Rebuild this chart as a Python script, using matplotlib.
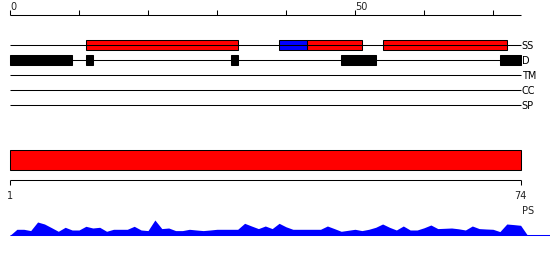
import matplotlib
matplotlib.use('Agg')
import matplotlib.pyplot as plt
from matplotlib.patches import Rectangle

# ---- data ----
seq_len = 74
ruler_ticks = [0, 10, 20, 30, 40, 50, 60, 70]
ruler_labels = {0: '0', 50: '50'}
track_names = ['SS', 'D', 'TM', 'CC', 'SP']
ss_start = [11, 39, 43, 54]
ss_end = [33, 43, 51, 72]
ss_color = ['#ff0000', '#0000ff', '#ff0000', '#ff0000']
d_start = [0, 11, 32, 48, 71]
d_end = [9, 12, 33, 53, 74]
domain_start = [0]
domain_end = [74]
domain_ruler_labels = ['1', '74']
ps_label = 'PS'
ps_values = [6, 6, 4.7, 13.3, 11.3, 7.7, 4, 8, 5.3, 5.3,
             9, 7.3, 8, 4, 6, 6, 6, 9, 5.3, 4.7,
             15.3, 6.7, 7.3, 4.7, 4.7, 6, 5.3, 4.7, 5.3, 6,
             6, 6, 6, 12, 9.3, 6.7, 9.3, 6.7, 12, 8.5,
             6, 6, 6, 6, 6, 9.3, 6.7, 4, 5, 6,
             4.7, 6, 8, 11.3, 8, 5.3, 9.3, 5.3, 5.3, 7.5,
             10.3, 6.7, 7, 7.3, 6.5, 5.3, 9.3, 6.7, 6.3, 6,
             3.7, 11.3, 10.7, 10]

# ---- layout ----
fig = plt.figure(figsize=(5.5, 2.6), dpi=100)
ax = fig.add_axes([0, 0, 1, 1])
px = 6.9
ax.set_xlim(-10 / px, 540 / px)
ax.set_ylim(260, 0)
ax.axis('off')
lw = 0.75
fs = 7
plt.rcParams['font.family'] = ['DejaVu Sans']

# top ruler
ax.plot([0, seq_len], [15, 15], color='black', lw=lw, solid_capstyle='butt')
for t in ruler_ticks:
    ax.plot([t, t], [10, 15], color='black', lw=lw, solid_capstyle='butt')
    if t in ruler_labels:
        ax.text(t, 10.3, ruler_labels[t], ha='left', va='baseline', fontsize=fs, color='#222222')

# tracks
track_y = [45, 60, 75, 90, 105]
for name, y in zip(track_names, track_y):
    ax.plot([0, seq_len], [y, y], color='black', lw=lw, solid_capstyle='butt')
    ax.text(seq_len + 0.15, y + 0.8, name, ha='left', va='center', fontsize=fs)

bh = 10
for s, e, c in zip(ss_start, ss_end, ss_color):
    ax.add_patch(Rectangle((s, track_y[0] - bh / 2), e - s, bh, facecolor=c,
                           edgecolor='black', lw=lw))
for s, e in zip(d_start, d_end):
    ax.add_patch(Rectangle((s, track_y[1] - bh / 2), e - s, bh, facecolor='black',
                           edgecolor='black', lw=lw))

# domain bar
for s, e in zip(domain_start, domain_end):
    ax.add_patch(Rectangle((s, 150.3), e - s, 20, facecolor='#ff0000',
                           edgecolor='black', lw=lw))

# bottom ruler
ax.plot([0, seq_len], [180.3, 180.3], color='black', lw=lw, solid_capstyle='butt')
for t in [0, seq_len]:
    ax.plot([t, t], [180.3, 185], color='black', lw=lw, solid_capstyle='butt')
ax.text(0, 196, domain_ruler_labels[0], ha='center', va='center', fontsize=fs, color='#222222')
ax.text(seq_len, 196, domain_ruler_labels[1], ha='center', va='center', fontsize=fs, color='#222222')
ax.text(seq_len + 0.15, 211, ps_label, ha='left', va='center', fontsize=fs, color='#222222')

# PS profile
base = 235.3
xs = [0] + list(range(1, seq_len + 1)) + [seq_len + 1]
hs = [0] + ps_values + [0]
ys = [base - h for h in hs]
ax.fill_between(xs, ys, [base] * len(xs), color='#0000ff', lw=0)
ax.plot([0, 540 / px], [base, base], color='#0000ff', lw=lw, solid_capstyle='butt')

fig.savefig('out.png', dpi=100)
